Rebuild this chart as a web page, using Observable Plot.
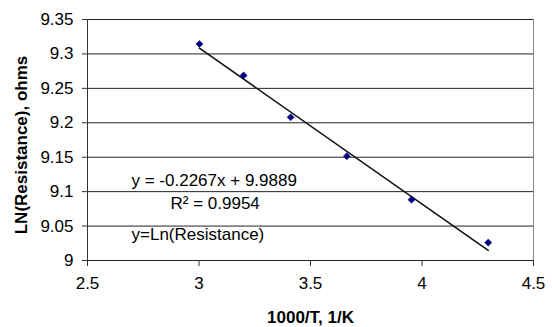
<!DOCTYPE html>
<html>
<head>
<meta charset="utf-8">
<script src="https://cdn.jsdelivr.net/npm/d3@7"></script>
<script src="https://cdn.jsdelivr.net/npm/@observablehq/plot@0.6"></script>
<style>
  html, body { margin: 0; padding: 0; background: #fff; }
  #chart { width: 552px; height: 327px; }
</style>
</head>
<body>
<div id="chart"></div>
<script>
// Data
const invT = [3.002, 3.200, 3.411, 3.663, 3.953, 4.297];
const lnR = [9.3145, 9.2688, 9.208, 9.1515, 9.0884, 9.026];
const trendSlope = [-0.2267];
const trendIntercept = [9.9889];
const xTicks = [2.5, 3, 3.5, 4, 4.5];
const yTicks = [9, 9.05, 9.1, 9.15, 9.2, 9.25, 9.3, 9.35];
const xTitle = "1000/T, 1/K";
const yTitle = "LN(Resistance), ohms";
const annotations = ["y = -0.2267x + 9.9889", "R\u00B2 = 0.9954", "y=Ln(Resistance)"];

const points = invT.map((x, i) => ({x, y: lnR[i]}));
const xExt = d3.extent(invT);
const trend = xExt.map(x => ({x, y: trendSlope[0] * x + trendIntercept[0]}));
const fmt = d => String(+(+d).toFixed(2));

const font = "'Liberation Sans', Arial, sans-serif";

const chart = Plot.plot({
  width: 552,
  height: 327,
  marginLeft: 87,
  marginRight: 19,
  marginTop: 19,
  marginBottom: 67,
  style: {fontFamily: font, fontSize: "17px", color: "#000", background: "#fff", overflow: "visible"},
  x: {domain: [2.5, 4.5], ticks: xTicks, tickFormat: fmt, label: null},
  y: {domain: [9, 9.35], ticks: yTicks, tickFormat: fmt, label: null},
  marks: [
    Plot.frame({stroke: "#888", strokeWidth: 1}),
    Plot.ruleY(yTicks, {stroke: "#222", strokeWidth: 1}),
    Plot.ruleX([2.5], {stroke: "#333", strokeWidth: 1}),
    Plot.axisX({ticks: xTicks, tickFormat: fmt, tickSize: 6, tickPadding: 10, stroke: "#333", label: null}),
    Plot.axisY({ticks: yTicks, tickFormat: fmt, tickSize: 5, tickPadding: 9, stroke: "#333", label: null}),
    Plot.line(trend, {x: "x", y: "y", stroke: "#111", strokeWidth: 1.6}),
    Plot.dot(points, {x: "x", y: "y", symbol: "diamond2", r: 3.2, fill: "#000080", stroke: "#000080", strokeWidth: 0.5}),
    Plot.text([annotations[0]], {frameAnchor: "top-left", textAnchor: "start", lineAnchor: "bottom", dx: 44, dy: 166.5, fontSize: 17}),
    Plot.text([annotations[1]], {frameAnchor: "top-left", textAnchor: "start", lineAnchor: "bottom", dx: 83, dy: 189.3, fontSize: 17}),
    Plot.text([annotations[2]], {frameAnchor: "top-left", textAnchor: "start", lineAnchor: "bottom", dx: 44, dy: 220, fontSize: 17}),
    Plot.text([xTitle], {frameAnchor: "bottom", textAnchor: "middle", lineAnchor: "bottom", dy: 62, fontSize: 17, fontWeight: "bold"}),
    Plot.text([yTitle], {frameAnchor: "left", textAnchor: "middle", lineAnchor: "middle", rotate: -90, dx: -66, dy: 5, fontSize: 17, fontWeight: "bold"})
  ]
});
document.getElementById("chart").appendChild(chart);
</script>
</body>
</html>
